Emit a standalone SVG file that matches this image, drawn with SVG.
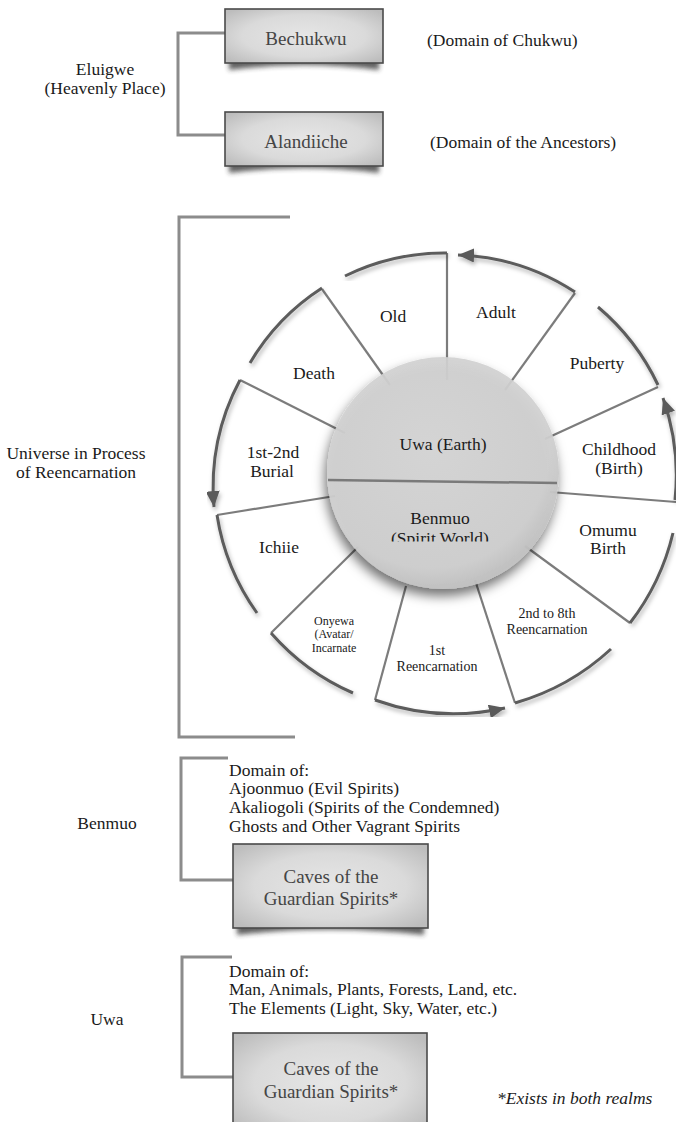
<svg xmlns="http://www.w3.org/2000/svg" width="676" height="1122" viewBox="0 0 676 1122">
<defs>
  <style>
    .t{font-family:"Liberation Serif","Times New Roman",serif;font-size:17.5px;fill:#1a1a1a}
    .c{text-anchor:middle}
    .bx{font-family:"Liberation Serif","Times New Roman",serif;font-size:19px;fill:#454545;text-anchor:middle}
    .box{fill:url(#boxg);stroke:#4a4a4a;stroke-width:1.6}
    .br{fill:none;stroke:#8c8c8c;stroke-width:3}
    .rad{fill:none;stroke:#7c7c7c;stroke-width:2.2}
    .arc{fill:none;stroke:#5c5c5c;stroke-width:3;filter:url(#arcsh)}
    .shd{fill:#2a2a2a;opacity:0.75;filter:url(#blur)}
  </style>
  <radialGradient id="boxg" cx="50%" cy="50%" r="65%">
    <stop offset="0" stop-color="#e6e6e6"/>
    <stop offset="0.6" stop-color="#dadada"/>
    <stop offset="1" stop-color="#bdbdbd"/>
  </radialGradient>
  <radialGradient id="circg" cx="45%" cy="40%" r="60%">
    <stop offset="0" stop-color="#d7d7d7"/>
    <stop offset="0.85" stop-color="#d0d0d0"/>
    <stop offset="1" stop-color="#c2c2c2"/>
  </radialGradient>
  <filter id="blur" x="-20%" y="-50%" width="140%" height="200%">
    <feGaussianBlur stdDeviation="2.6"/>
  </filter>
  <filter id="arcsh" x="-20%" y="-20%" width="140%" height="140%">
    <feDropShadow dx="1.5" dy="3" stdDeviation="2" flood-color="#000" flood-opacity="0.3"/>
  </filter>
  <filter id="circsh" x="-20%" y="-20%" width="140%" height="150%">
    <feDropShadow dx="-2" dy="7" stdDeviation="6" flood-color="#000" flood-opacity="0.6"/>
  </filter>
  <marker id="ah" markerUnits="userSpaceOnUse" markerWidth="18" markerHeight="16" refX="16" refY="7" orient="auto">
    <path d="M0,0 L16,7 L0,14 Z" fill="#5a5a5a"/>
  </marker>
  <clipPath id="swclip"><rect x="300" y="500" width="280" height="41.5"/></clipPath>
</defs>
<rect width="676" height="1122" fill="#ffffff"/>

<g id="connectors">
  <path class="br" d="M226,33 L178,33 L178,135 L226,135"/>
  <path class="br" d="M290,217 L179,217 L179,737 L295,737"/>
  <path class="br" d="M228,758 L181,758 L181,880 L233,880"/>
  <path class="br" d="M232,957 L182,957 L182,1077 L233,1077"/>
</g>

<g id="eluigwe">
  <text class="t c" x="105" y="75">Eluigwe</text>
  <text class="t c" x="105" y="94">(Heavenly Place)</text>
</g>

<g id="bechukwu">
  <path class="shd" d="M229,58 L379,58 L379,70 Q304,60 229,70 Z"/>
  <rect class="box" x="225" y="9" width="158" height="54"/>
  <text class="bx" x="306" y="45">Bechukwu</text>
</g>
<g id="bechukwu-note"><text class="t" x="427" y="46">(Domain of Chukwu)</text></g>

<g id="alandiiche">
  <path class="shd" d="M229,161 L379,161 L379,173 Q304,163 229,173 Z"/>
  <rect class="box" x="225" y="112" width="158" height="54"/>
  <text class="bx" x="306" y="148">Alandiiche</text>
</g>
<g id="alandiiche-note"><text class="t" x="430" y="148">(Domain of the Ancestors)</text></g>

<g id="universe">
  <text class="t c" x="76" y="459">Universe in Process</text>
  <text class="t c" x="76" y="478">of Reencarnation</text>
</g>

<g id="wheel">
  <g id="spokes">
    <path class="rad" d="M447,253 L447,380"/>
    <path class="rad" d="M575,293 L505,390"/>
    <path class="rad" d="M658,387 L545,439"/>
    <path class="rad" d="M676,502 L550,492"/>
    <path class="rad" d="M630,623 L525,546"/>
    <path class="rad" d="M515,703 L475,580"/>
    <path class="rad" d="M375,700 L406,586"/>
    <path class="rad" d="M271,633 L358,547"/>
    <path class="rad" d="M217,515 L335,496"/>
    <path class="rad" d="M240,380 L345,433"/>
    <path class="rad" d="M322,289 L390,385"/>
  </g>
  <g id="rims">
    <path class="arc" d="M345,276 A225,225 0 0 1 447,253"/>
    <path class="arc" d="M575,292 A226,226 0 0 0 458,255" marker-end="url(#ah)"/>
    <path class="arc" d="M598,307 A232,232 0 0 1 658,385"/>
    <path class="arc" d="M675,500 A233,233 0 0 0 663,398" marker-end="url(#ah)"/>
    <path class="arc" d="M630,623 A237,237 0 0 0 673,533"/>
    <path class="arc" d="M515,703 A238,238 0 0 0 611,649"/>
    <path class="arc" d="M375,700 A234,234 0 0 0 505,708" marker-end="url(#ah)"/>
    <path class="arc" d="M271,633 A232,232 0 0 0 353,693"/>
    <path class="arc" d="M217,515 A229,229 0 0 0 257,613"/>
    <path class="arc" d="M240,380 A228,228 0 0 0 214,507" marker-end="url(#ah)"/>
    <path class="arc" d="M250,363 A225,225 0 0 1 322,288"/>
  </g>
  <g id="hub">
    <circle cx="443" cy="473" r="116" fill="url(#circg)" fill-opacity="0.92" filter="url(#circsh)"/>
    <path d="M328,480 L557,483" stroke="#7a7a7a" stroke-width="2.5" fill="none"/>
    <text class="t c" x="443" y="450">Uwa (Earth)</text>
    <text class="t c" x="440" y="524">Benmuo</text>
    <text class="t c" x="440" y="544" clip-path="url(#swclip)">(Spirit World)</text>
  </g>
  <g id="seg-old"><text class="t c" x="393" y="322">Old</text></g>
  <g id="seg-adult"><text class="t c" x="496" y="318">Adult</text></g>
  <g id="seg-puberty"><text class="t c" x="597" y="369">Puberty</text></g>
  <g id="seg-childhood"><text class="t c" x="619" y="455">Childhood</text><text class="t c" x="619" y="474">(Birth)</text></g>
  <g id="seg-omumu"><text class="t c" x="608" y="536">Omumu</text><text class="t c" x="608" y="554">Birth</text></g>
  <g id="seg-2nd"><text class="t c" x="547" y="618" style="font-size:14px">2nd to 8th</text><text class="t c" x="547" y="634" style="font-size:14px">Reencarnation</text></g>
  <g id="seg-1st"><text class="t c" x="437" y="655" style="font-size:14px">1st</text><text class="t c" x="437" y="671" style="font-size:14px">Reencarnation</text></g>
  <g id="seg-onyewa"><text class="t c" x="334" y="625" style="font-size:12px">Onyewa</text><text class="t c" x="334" y="638" style="font-size:12px">(Avatar/</text><text class="t c" x="334" y="652" style="font-size:12px">Incarnate</text></g>
  <g id="seg-ichiie"><text class="t c" x="279" y="553">Ichiie</text></g>
  <g id="seg-burial"><text class="t c" x="273" y="458">1st-2nd</text><text class="t c" x="272" y="477">Burial</text></g>
  <g id="seg-death"><text class="t c" x="314" y="379">Death</text></g>
</g>

<g id="benmuo-label"><text class="t c" x="107" y="829">Benmuo</text></g>
<g id="benmuo-domain">
  <text class="t" x="229" y="776">Domain of:</text>
  <text class="t" x="229" y="794">Ajoonmuo (Evil Spirits)</text>
  <text class="t" x="229" y="813">Akaliogoli (Spirits of the Condemned)</text>
  <text class="t" x="229" y="832">Ghosts and Other Vagrant Spirits</text>
</g>
<g id="benmuo-caves">
  <path class="shd" d="M237,922 L424,922 L424,935 Q330,924 237,935 Z"/>
  <rect class="box" x="233" y="844" width="195" height="84"/>
  <text class="bx" x="331" y="883">Caves of the</text>
  <text class="bx" x="331" y="905">Guardian Spirits*</text>
</g>

<g id="uwa-label"><text class="t c" x="107" y="1025">Uwa</text></g>
<g id="uwa-domain">
  <text class="t" x="229" y="977">Domain of:</text>
  <text class="t" x="229" y="995">Man, Animals, Plants, Forests, Land, etc.</text>
  <text class="t" x="229" y="1014">The Elements (Light, Sky, Water, etc.)</text>
</g>
<g id="uwa-caves">
  <rect class="box" x="233" y="1033" width="194" height="100"/>
  <text class="bx" x="331" y="1075">Caves of the</text>
  <text class="bx" x="331" y="1098">Guardian Spirits*</text>
</g>

<g id="footnote"><text class="t" x="497" y="1104" style="font-style:italic">*Exists in both realms</text></g>
</svg>
